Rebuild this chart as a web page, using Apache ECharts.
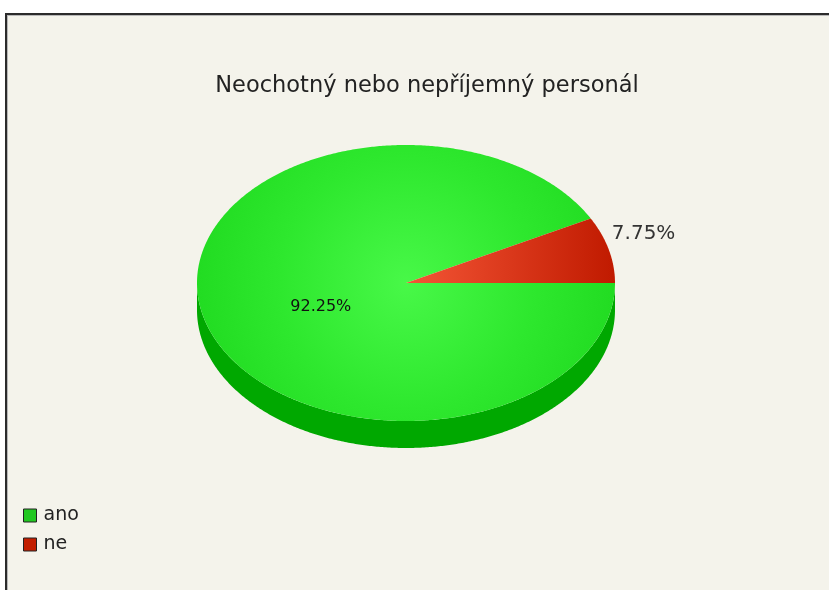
<!DOCTYPE html>
<html>
<head>
<meta charset="utf-8">
<script src="https://cdn.jsdelivr.net/npm/echarts@6/dist/echarts.min.js"></script>
<style>
  html, body { margin: 0; padding: 0; background: #ffffff; }
  #panel {
    position: absolute; left: 5px; top: 13px; width: 824px; height: 577px;
    border-top: 2px solid #2b2b2b; border-left: 2px solid #2b2b2b;
    box-shadow: inset 0 1px 0 #b8b8b8, inset 1px 0 0 #b8b8b8;
    background: #f4f3eb; box-sizing: border-box;
  }
  #chart { position: absolute; left: 0; top: 0; width: 829px; height: 590px; }
</style>
</head>
<body>
<div id="panel"></div>
<div id="chart"></div>
<script>
// Answers to the survey question
const titleText = 'Neochotný nebo nepříjemný personál';
const categories = ['ano', 'ne'];
const shares = [92.25, 7.75];

// Flat colours (legend) and shading for the pie faces
const legendColors = ['#22c822', '#c21e00'];
const sideColors = ['#00a800', '#a01400'];

// Geometry of the tilted pie
const PIE = { cx: 406, cy: 283, rx: 209, ry: 138, depth: 27 };

function ellipsePoint(deg, yOff) {
  const a = deg * Math.PI / 180;
  return [PIE.cx + PIE.rx * Math.cos(a), PIE.cy + (yOff || 0) - PIE.ry * Math.sin(a)];
}

function arcPoints(a0, a1, yOff) {
  const pts = [];
  const n = Math.max(2, Math.ceil((a1 - a0) / 0.5));
  for (let k = 0; k <= n; k++) pts.push(ellipsePoint(a0 + (a1 - a0) * k / n, yOff));
  return pts;
}

function topFill(i) {
  if (i === 0) {
    return {
      type: 'radial', x: PIE.cx, y: PIE.cy, r: PIE.rx, global: true,
      colorStops: [
        { offset: 0, color: '#48f848' },
        { offset: 0.6, color: '#2ee82e' },
        { offset: 1, color: '#22dc22' }
      ]
    };
  }
  return {
    type: 'linear', x: PIE.cx, y: 0, x2: PIE.cx + PIE.rx, y2: 0, global: true,
    colorStops: [
      { offset: 0, color: '#f45636' },
      { offset: 1, color: '#c01a00' }
    ]
  };
}

// Slices run clockwise from the east, in category order
function renderSlice(params, api) {
  const i = params.seriesIndex;
  const value = api.value(0);
  const total = shares.reduce((s, v) => s + v, 0);
  let before = 0;
  for (let j = 0; j < i; j++) before += shares[j];
  const a0 = 360 - (before + value) / total * 360;
  const a1 = 360 - before / total * 360;
  const children = [];

  // visible front rim (lower half of the ellipse)
  const s0 = Math.max(a0, 180), s1 = Math.min(a1, 360);
  if (s1 > s0) {
    const rim = arcPoints(s0, s1, 0).concat(arcPoints(s0, s1, PIE.depth).reverse());
    children.push({ type: 'polygon', shape: { points: rim }, style: { fill: sideColors[i] } });
  }

  // top face
  const face = [[PIE.cx, PIE.cy]].concat(arcPoints(a0, a1, 0));
  children.push({ type: 'polygon', shape: { points: face }, style: { fill: topFill(i) } });

  // percentage label
  const mid = (a0 + a1) / 2;
  const txt = value.toFixed(2) + '%';
  if (value / total > 0.5) {
    const a = mid * Math.PI / 180;
    children.push({
      type: 'text',
      x: PIE.cx + 0.42 * PIE.rx * Math.cos(a),
      y: PIE.cy - 0.42 * PIE.ry * Math.sin(a) + 10,
      style: { text: txt, fill: '#111', font: '16px "DejaVu Sans"', align: 'center', verticalAlign: 'middle' }
    });
  } else {
    const p = ellipsePoint(mid, 0);
    children.push({
      type: 'text', x: p[0] + 3, y: p[1] - 16,
      style: { text: txt, fill: '#333', font: '20px "DejaVu Sans"', align: 'left', verticalAlign: 'middle' }
    });
  }
  return { type: 'group', children };
}

const chart = echarts.init(document.getElementById('chart'), null, { renderer: 'canvas' });
chart.setOption({
  backgroundColor: 'transparent',
  animation: false,
  title: {
    text: titleText,
    left: 422, top: 70, textAlign: 'center',
    textStyle: { fontFamily: 'DejaVu Sans', fontSize: 22.5, fontWeight: 'normal', color: '#222' }
  },
  legend: {
    orient: 'vertical', left: 18, top: 501,
    icon: 'rect', itemWidth: 13, itemHeight: 13, itemGap: 10,
    textStyle: { fontFamily: 'DejaVu Sans', fontSize: 19, color: '#222', padding: [0, 0, 0, 2] },
    data: categories.map((c, i) => ({
      name: c,
      itemStyle: { color: legendColors[i], borderColor: '#222', borderWidth: 1 }
    }))
  },
  series: categories.map((c, i) => ({
    type: 'custom',
    name: c,
    coordinateSystem: 'none',
    itemStyle: { color: legendColors[i] },
    renderItem: renderSlice,
    data: [[shares[i]]]
  }))
});
</script>
</body>
</html>
